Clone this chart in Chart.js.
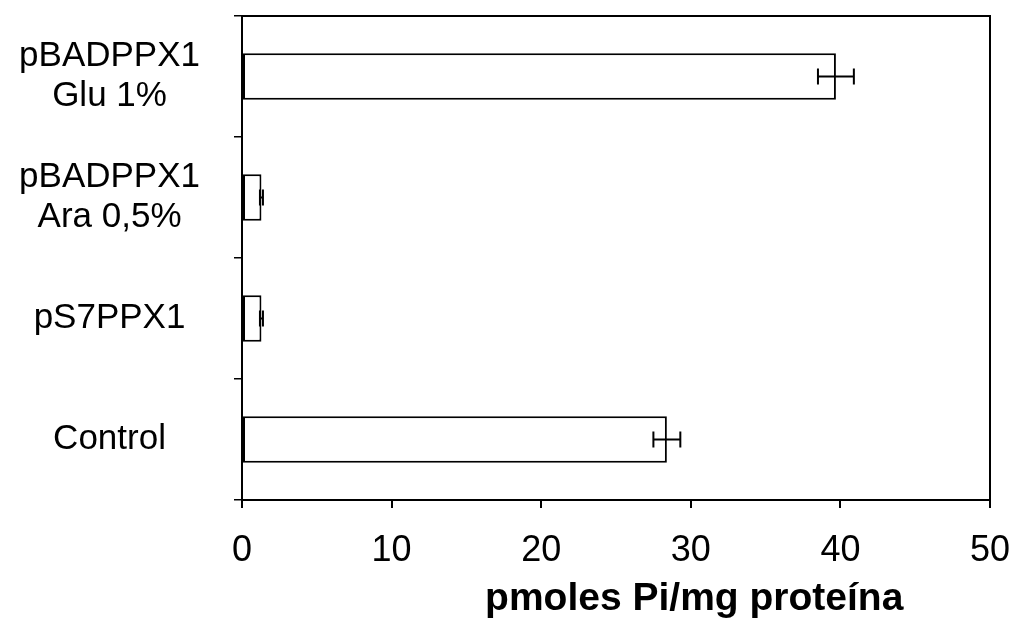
<!DOCTYPE html>
<html lang="es">
<head>
    <meta charset="UTF-8">
    <title>pmoles Pi/mg proteína</title>
    <script src="https://cdn.jsdelivr.net/npm/chart.js"></script>
    <style>
        body { margin: 0; background: #fff; }
        canvas { display: block; }
    </style>
</head>
<body>
    <canvas id="barChart" width="1018" height="619"></canvas>
    <script>
        // data
        const categories = [
            ['pBADPPX1', 'Glu 1%'],
            ['pBADPPX1', 'Ara 0,5%'],
            'pS7PPX1',
            'Control'
        ];
        const activity = [39.7, 1.3, 1.3, 28.4];
        const activityErr = [1.2, 0.1, 0.1, 0.9];
        const xTicks = [0, 10, 20, 30, 40, 50];

        const FONT = 'Arial, "Liberation Sans", sans-serif';

        // horizontal error bars, drawn through the chart's own scales
        const errorBars = {
            id: 'errorBars',
            afterDatasetsDraw(chart) {
                const ctx = chart.ctx;
                const x = chart.scales.x;
                const meta = chart.getDatasetMeta(0);
                ctx.save();
                ctx.strokeStyle = '#000';
                ctx.lineWidth = 2;
                meta.data.forEach((bar, i) => {
                    const v = activity[i], e = activityErr[i];
                    const x0 = x.getPixelForValue(v - e);
                    const x1 = x.getPixelForValue(v + e);
                    const y = bar.y;
                    const cap = 8;
                    ctx.beginPath();
                    ctx.moveTo(x0, y); ctx.lineTo(x1, y);
                    ctx.moveTo(x0, y - cap); ctx.lineTo(x0, y + cap);
                    ctx.moveTo(x1, y - cap); ctx.lineTo(x1, y + cap);
                    ctx.stroke();
                });
                ctx.restore();
            }
        };

        // box around the plot area
        const frame = {
            id: 'frame',
            afterDraw(chart) {
                const a = chart.chartArea;
                const ctx = chart.ctx;
                ctx.save();
                ctx.strokeStyle = '#000';
                ctx.lineWidth = 2;
                ctx.strokeRect(a.left, a.top, a.right - a.left, a.bottom - a.top);
                ctx.restore();
            }
        };

        new Chart(document.getElementById('barChart'), {
            type: 'bar',
            data: {
                labels: categories,
                datasets: [{
                    data: activity,
                    backgroundColor: '#fff',
                    borderColor: '#000',
                    borderWidth: 2,
                    borderSkipped: false,
                    barPercentage: 0.48,
                    categoryPercentage: 0.8
                }]
            },
            options: {
                indexAxis: 'y',
                responsive: false,
                animation: false,
                layout: { padding: { top: 16, right: 28, left: 0, bottom: 0 } },
                plugins: {
                    legend: { display: false },
                    tooltip: { enabled: false }
                },
                scales: {
                    x: {
                        min: 0,
                        max: 50,
                        afterBuildTicks: axis => { axis.ticks = xTicks.map(v => ({ value: v })); },
                        afterFit: axis => {
                            axis.height = 119;
                            axis.paddingLeft = 0;
                            axis.paddingRight = 0;
                        },
                        grid: {
                            drawOnChartArea: false,
                            color: '#000',
                            lineWidth: 2,
                            tickLength: 8
                        },
                        border: { color: '#000', width: 2 },
                        ticks: {
                            color: '#000',
                            padding: 21,
                            font: { family: FONT, size: 36 }
                        },
                        title: {
                            display: true,
                            // trailing nbsp keep the title off the right edge like the original
                            text: 'pmoles Pi/mg proteína\u00a0\u00a0\u00a0\u00a0\u00a0\u00a0\u00a0\u00a0',
                            align: 'end',
                            color: '#000',
                            padding: { top: 0, bottom: 0 },
                            font: { family: FONT, size: 39, weight: 'bold', lineHeight: 1.0 }
                        }
                    },
                    y: {
                        afterFit: axis => {
                            axis.width = 242;
                            axis.paddingTop = 0;
                            axis.paddingBottom = 0;
                        },
                        grid: {
                            drawOnChartArea: false,
                            color: '#000',
                            lineWidth: 1.5,
                            tickLength: 8
                        },
                        border: { color: '#000', width: 2 },
                        ticks: {
                            color: '#000',
                            crossAlign: 'center',
                            padding: 34,
                            font: { family: FONT, size: 35, lineHeight: 1.15 }
                        }
                    }
                }
            },
            plugins: [errorBars, frame]
        });
    </script>
</body>
</html>
